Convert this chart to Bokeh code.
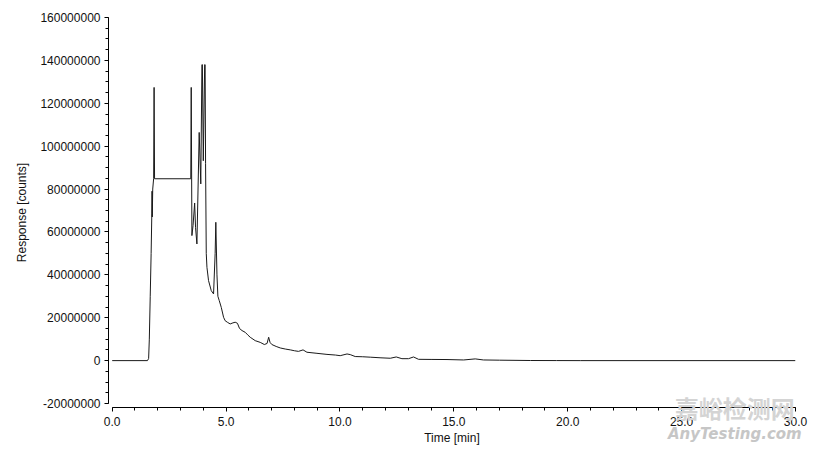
from bokeh.plotting import figure
from bokeh.models import FixedTicker, NumeralTickFormatter, Range1d, ColumnDataSource, Div
from bokeh.layouts import column
from bokeh.embed import file_html
from bokeh.resources import INLINE

# Retention time (min) and detector response (counts)
time_min = [0.0, 1.55, 1.60, 1.63, 1.67, 1.71, 1.74, 1.75, 1.76, 1.78, 1.82, 1.84, 1.86,
            3.45, 3.47, 3.50, 3.55, 3.62, 3.66, 3.72, 3.82, 3.89, 3.94, 3.96, 4.00, 4.06,
            4.08, 4.10, 4.13, 4.16, 4.23, 4.35, 4.45, 4.52, 4.55, 4.60, 4.64, 4.70, 4.79,
            4.89, 4.96, 5.07, 5.18, 5.30, 5.40, 5.50, 5.59, 5.70, 5.84, 5.95, 6.06, 6.28,
            6.50, 6.68, 6.80, 6.87, 6.93, 7.01, 7.20, 7.38, 7.60, 7.82, 8.00, 8.18, 8.38,
            8.55, 8.99, 9.43, 9.80, 10.01, 10.31, 10.45, 10.67, 11.00, 11.33, 11.80, 12.21,
            12.47, 12.72, 13.01, 13.23, 13.45, 14.00, 14.70, 15.43, 15.94, 16.30, 17.00,
            18.36, 19.50, 20.55, 30.0]
response_m = [0, 0, 1.0, 10, 30, 50, 68.4, 79, 67, 80, 85, 127.4, 84.8,
              84.8, 127.4, 58.3, 63, 73.5, 62, 54.4, 106.4, 82.4, 138, 138, 93.2, 138,
              138, 92, 50, 43.5, 37.3, 32.6, 31.1, 50, 64.5, 40, 30, 28, 24.8,
              20.2, 18.6, 17.8, 17.1, 17.6, 17.9, 17.4, 15.0, 14.0, 13.2, 12.0, 10.9, 9.3,
              8.5, 7.5, 8.0, 10.9, 8.5, 7.5, 6.6, 5.9, 5.4, 5.0, 4.6, 4.3, 5.0,
              3.9, 3.4, 2.9, 2.6, 2.3, 3.1, 2.8, 1.9, 1.8, 1.6, 1.3, 1.1,
              1.7, 0.9, 0.9, 1.7, 0.6, 0.55, 0.5, 0.3, 0.8, 0.3, 0.2,
              0.05, 0.02, 0, 0]
response = [v * 1e6 for v in response_m]

x_ticks = [0, 5, 10, 15, 20, 25, 30]
x_minor = [i for i in range(0, 31)]
y_ticks = [-20000000, 0, 20000000, 40000000, 60000000, 80000000, 100000000, 120000000,
           140000000, 160000000]
y_minor = [i * 5000000 for i in range(-4, 33)]

FONT = "Liberation Sans"

p = figure(width=816, height=447, output_backend="svg", toolbar_location=None,
           x_range=Range1d(-0.162, 30.0), y_range=Range1d(-21.865e6, 160e6),
           min_border_left=108, min_border_right=21, min_border_top=17, min_border_bottom=40)
p.outline_line_color = None
p.xgrid.visible = False
p.ygrid.visible = False
p.background_fill_color = "white"
p.border_fill_color = "white"

src = ColumnDataSource(dict(t=time_min, r=response))
p.line("t", "r", source=src, line_color="#1a1a1a", line_width=1)

xa = p.xaxis[0]
xa.ticker = FixedTicker(ticks=x_ticks, minor_ticks=x_minor)
xa.formatter = NumeralTickFormatter(format="0.0")
xa.bounds = (0, 30)
xa.axis_label = "Time [min]"

ya = p.yaxis[0]
ya.ticker = FixedTicker(ticks=y_ticks, minor_ticks=y_minor)
ya.formatter = NumeralTickFormatter(format="0")
ya.bounds = (-20000000, 160000000)
ya.axis_label = "Response [counts]"

for ax in (xa, ya):
    ax.axis_line_color = "black"
    ax.major_tick_line_color = "black"
    ax.minor_tick_line_color = "black"
    ax.major_tick_in = 0
    ax.major_tick_out = 4
    ax.minor_tick_in = 0
    ax.minor_tick_out = 3
    ax.major_label_text_font = FONT
    ax.major_label_text_font_size = "12px"
    ax.major_label_text_color = "#111111"
    ax.axis_label_text_font = FONT
    ax.axis_label_text_font_size = "12px"
    ax.axis_label_text_font_style = "normal"
    ax.axis_label_text_color = "#111111"

xa.major_label_standoff = 5
xa.axis_label_standoff = 2
ya.major_label_standoff = 4
ya.axis_label_standoff = 8

# watermark (overlaid on the lower-right corner)
wm = Div(text=('<div style="font-family:\'Noto Sans CJK SC\';font-size:24px;font-weight:bold;'
               'color:#d4d4d4;line-height:24px;text-align:center;white-space:nowrap">嘉峪检测网</div>'
               '<div style="font-family:\'DejaVu Sans\';font-size:15px;font-weight:bold;'
               'font-style:italic;color:#c6c6c6;line-height:17px;margin-top:6px;text-align:center;'
               'white-space:nowrap">AnyTesting.com</div>'),
         width=145, height=48, margin=(-51, 0, 0, 668))

layout = column(p, wm, spacing=0)
open("out.html", "w").write(file_html(layout, INLINE))
